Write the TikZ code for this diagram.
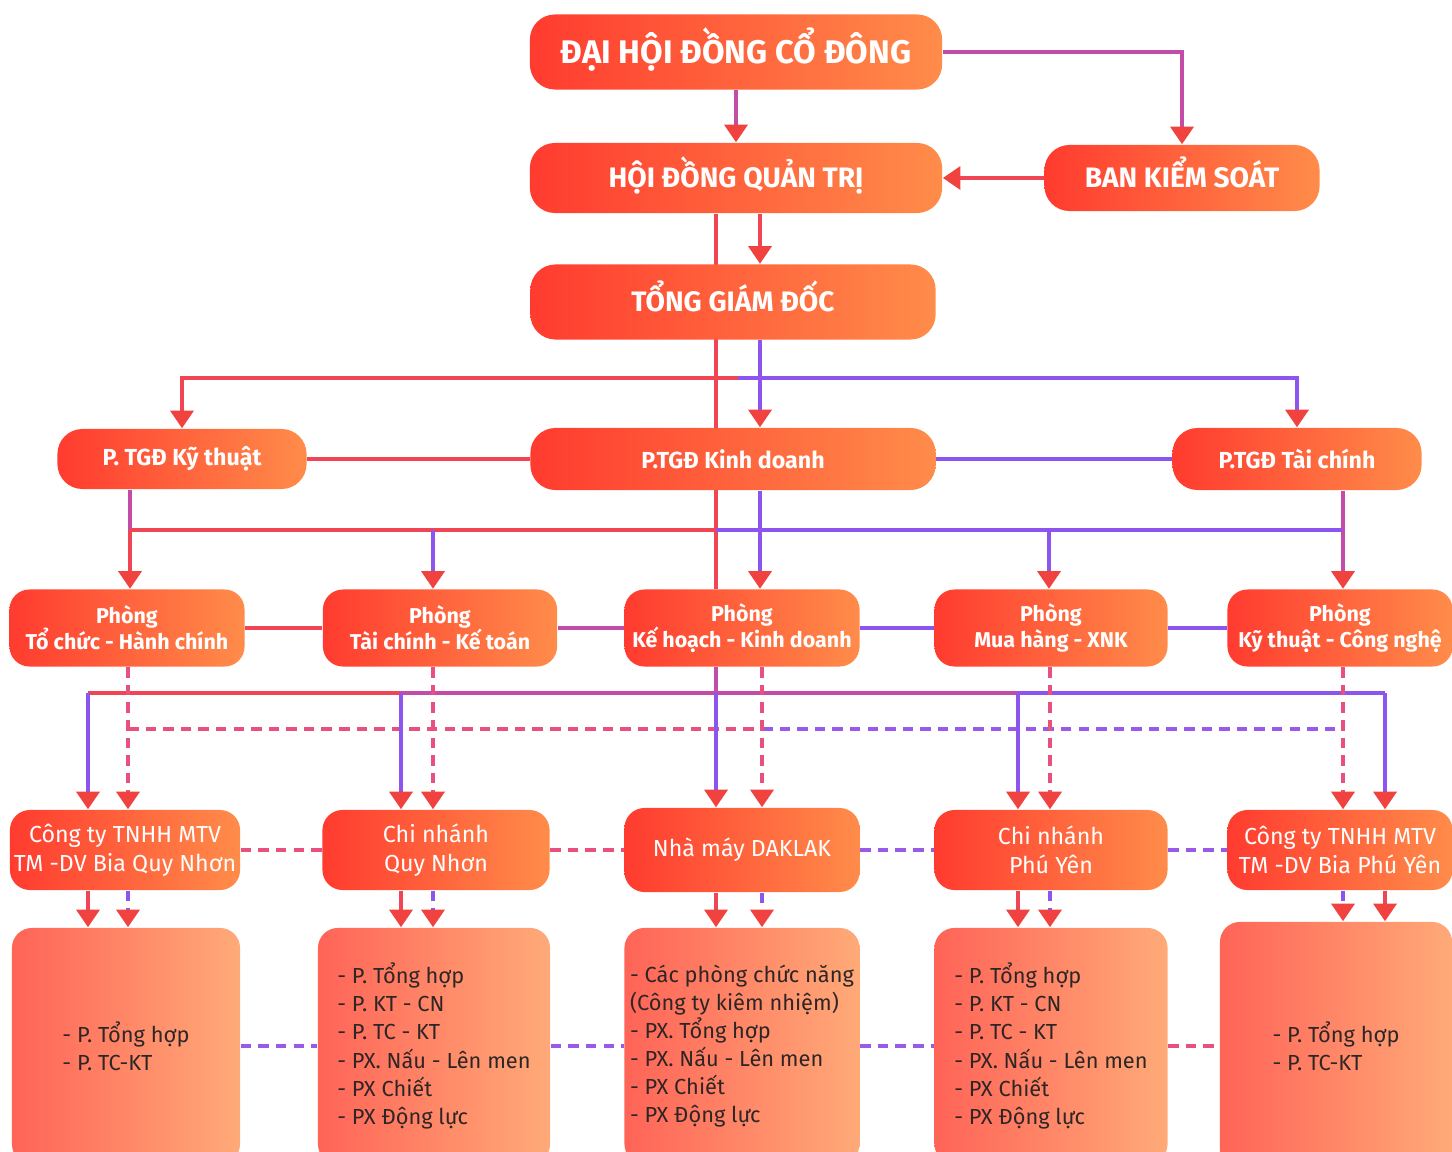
\documentclass[tikz,border=0pt]{standalone}
\usepackage{fontspec}
\setmainfont{Fira Sans}
\usetikzlibrary{arrows.meta,backgrounds}
\definecolor{boxred}{HTML}{FF3B2F}
\definecolor{boxorange}{HTML}{FF8C4A}
\definecolor{listred}{HTML}{FF6457}
\definecolor{listorange}{HTML}{FFAA78}
\definecolor{listtext}{HTML}{2E2626}
\definecolor{linered}{HTML}{F04555}
\definecolor{linepurple}{HTML}{8C55F0}
\definecolor{linemix}{HTML}{C24CA8}
\definecolor{dashred}{HTML}{E8507E}
\definecolor{dashpurple}{HTML}{9A5AE8}
\definecolor{tipred}{HTML}{F0423F}
\begin{document}
\lineskiplimit=-100pt
\begin{tikzpicture}[x=0.01cm,y=-0.01cm]

      \tikzset{box/.style={rounded corners=0.25cm, left color=boxred, right color=boxorange, text=white, inner sep=0pt, align=center},
               headbox/.style={box, font=\bfseries\fontsize{8}{10}\selectfont, text height=5.6pt, text depth=0pt},
               ptgd/.style={box, font=\bfseries\fontsize{6.6}{8}\selectfont, minimum height=0.62cm},
               phong/.style={box, rounded corners=0.2cm, font=\bfseries\fontsize{6.1}{7.4}\selectfont, minimum height=0.77cm},
               donvi/.style={box, rounded corners=0.2cm, font=\fontsize{6.6}{8.2}\selectfont, minimum height=0.8cm},
               bophan/.style={rounded corners=0.2cm, left color=listred, right color=listorange, text=listtext, inner sep=0pt, align=left, font=\fontsize{6.2}{8}\selectfont, minimum height=2.36cm},
               link/.style={line width=1.1pt},
               dlink/.style={line width=1.1pt, dash pattern=on 3pt off 2pt},
               arr/.style={-{Triangle[width=6.5pt,length=5pt,color=tipred]}}}
      \useasboundingbox (0,0) rectangle (1452,1152);
%% Lanh dao
      	\node[headbox, font=\bfseries\fontsize{9.3}{12}\selectfont, text height=6.4pt, minimum width=4.12cm, minimum height=0.75cm] (dhdcd) at (736,52) {ĐẠI HỘI ĐỒNG CỔ ĐÔNG};
      	\node[headbox, minimum width=4.12cm, minimum height=0.7cm] (hdqt) at (736,178) {HỘI ĐỒNG QUẢN TRỊ};
      	\node[headbox, minimum width=2.75cm, minimum height=0.66cm] (bks) at (1182,178) {BAN KIỂM SOÁT};
      	\node[headbox, minimum width=4.05cm, minimum height=0.75cm] (tgd) at (733,302) {TỔNG GIÁM ĐỐC};
%% Pho tong giam doc
      	\node[ptgd, minimum width=2.49cm, minimum height=0.6cm] (pkt) at (182,459) {P. TGĐ Kỹ thuật};
      	\node[ptgd, minimum width=4.05cm] (pkd) at (733,459) {P.TGĐ Kinh doanh};
      	\node[ptgd, minimum width=2.49cm] (ptc) at (1297,459) {P.TGĐ Tài chính};
%% Phong ban
      	\node[phong, minimum width=2.35cm] (pb1) at (127,628) {Phòng\\Tổ chức - Hành chính};
      	\node[phong, minimum width=2.34cm] (pb2) at (440,628) {Phòng\\Tài chính - Kế toán};
      	\node[phong, minimum width=2.35cm] (pb3) at (742,628) {Phòng\\Kế hoạch - Kinh doanh};
      	\node[phong, minimum width=2.33cm] (pb4) at (1051,628) {Phòng\\Mua hàng - XNK};
      	\node[phong, minimum width=2.25cm] (pb5) at (1340,628) {Phòng\\Kỹ thuật - Công nghệ};
%% Don vi
      	\node[donvi, minimum width=2.3cm] (dv1) at (125,850) {Công ty TNHH MTV\\TM -DV Bia Quy Nhơn};
      	\node[donvi, minimum width=2.27cm] (dv2) at (436,850) {Chi nhánh\\Quy Nhơn};
      	\node[donvi, minimum width=2.35cm, minimum height=0.84cm] (dv3) at (742,850) {Nhà máy DAKLAK};
      	\node[donvi, minimum width=2.33cm] (dv4) at (1051,850) {Chi nhánh\\Phú Yên};
      	\node[donvi, minimum width=2.25cm] (dv5) at (1340,850) {Công ty TNHH MTV\\TM -DV Bia Phú Yên};
%% Bo phan
      	\node[bophan, minimum width=2.28cm] (bp1) at (126,1046) {- P. Tổng hợp\\- P. TC-KT};
      	\node[bophan, minimum width=2.32cm] (bp2) at (434,1046) {- P. Tổng hợp\\- P. KT - CN\\- P. TC - KT\\- PX. Nấu - Lên men\\- PX Chiết\\- PX Động lực};
      	\node[bophan, minimum width=2.35cm] (bp3) at (742,1046) {- Các phòng chức năng\\(Công ty kiêm nhiệm)\\- PX. Tổng hợp\\- PX. Nấu - Lên men\\- PX Chiết\\- PX Động lực};
      	\node[bophan, minimum width=2.33cm] (bp4) at (1051,1046) {- P. Tổng hợp\\- P. KT - CN\\- P. TC - KT\\- PX. Nấu - Lên men\\- PX Chiết\\- PX Động lực};
      	\node[bophan, minimum width=2.32cm, minimum height=2.48cm] (bp5) at (1336,1046) {- P. Tổng hợp\\- P. TC-KT};
%Bus points
      	\coordinate (ta) at (716,302);
      	\coordinate (tb) at (760,302);
      	\coordinate (bus1) at (738,378);
      	\coordinate (t1) at (130,530);
      	\coordinate (t2) at (433,530);
      	\coordinate (t4) at (1049,530);
      	\coordinate (t5) at (1343,530);
      	\coordinate (s1) at (88,693);
      	\coordinate (s2) at (401,693);
      	\coordinate (s3) at (716,693);
      	\coordinate (s4) at (1018,693);
      	\coordinate (s5) at (1385,693);
      	\coordinate (d1) at (128,729);
      	\coordinate (d2) at (433,729);
      	\coordinate (d3) at (762,729);
      	\coordinate (d4) at (1050,729);
      	\coordinate (d5) at (1343,729);
%Edges
      \begin{pgfonlayer}{background}
		\draw[link, linemix, arr] (dhdcd) -- (hdqt);
		\draw[link, linemix, arr] (dhdcd.east) -| (bks);
		\draw[link, linered, arr] (bks) -- (hdqt);
		\draw[link, linered] (hdqt.south -| ta) -- (pb3.north -| ta);
		\draw[link, linered, arr] (hdqt.south -| tb) -- (tgd.north -| tb);
		\draw[link, linepurple, arr] (tgd.south -| tb) -- (pkd.north -| tb);
		\draw[link, linered, arr] (bus1) -| (pkt);
		\draw[link, linepurple, arr] (bus1) -| (ptc);
		\draw[link, linered] (pkt) -- (pkd);
		\draw[link, linepurple] (pkd) -- (ptc);
		\draw[link, linemix] (pkt.south -| t1) -- (t1);
		\draw[link, linemix] (ptc.south -| t5) -- (t5);
		\draw[link, linered] (t1) -- (t2 -| ta);
		\draw[link, linepurple] (t2 -| ta) -- (t5);
		\draw[link, linered, arr] (t1) -- (pb1.north -| t1);
		\draw[link, linepurple, arr] (t2) -- (pb2.north -| t2);
		\draw[link, linepurple, arr] (pkd.south -| tb) -- (pb3.north -| tb);
		\draw[link, linepurple, arr] (t4) -- (pb4.north -| t4);
		\draw[link, linemix, arr] (t5) -- (pb5.north -| t5);
		\foreach \a/\b/\c in {pb1/pb2/linered, pb2/pb3/linemix, pb3/pb4/linepurple, pb4/pb5/linepurple}
			\draw[link, \c] (\a) -- (\b);
		\draw[link, linemix] (pb3.south -| s3) -- (s3);
		\draw[link, linered] (s1) -- (s2);
		\draw[link, linemix] (s2) -- (s4);
		\draw[link, linepurple] (s4) -- (s5);
		\draw[dlink, dashred] (d1) -- (d3);
		\draw[dlink, dashpurple] (d3) -- (d5);
		\foreach \i in {1,...,5} {
			\draw[link, linepurple, arr] (s\i) -- (dv\i.north -| s\i);
			\draw[dlink, dashred, arr] (pb\i.south -| d\i) -- (dv\i.north -| d\i);
			\draw[link, linered, arr] (dv\i.south -| s\i) -- (bp\i.north -| s\i);
			\draw[dlink, linepurple, arr] (dv\i.south -| d\i) -- (bp\i.north -| d\i);
		}
		\foreach \a/\b/\c in {dv1/dv2/dashred, dv2/dv3/dashred, dv3/dv4/dashpurple, dv4/dv5/dashpurple}
			\draw[dlink, \c] (\a) -- (\b);
		\foreach \a/\b/\c in {bp1/bp2/dashpurple, bp2/bp3/dashpurple, bp3/bp4/dashpurple, bp4/bp5/dashred}
			\draw[dlink, \c] (\a) -- (\b);
      \end{pgfonlayer}

	\end{tikzpicture}
\end{document}
